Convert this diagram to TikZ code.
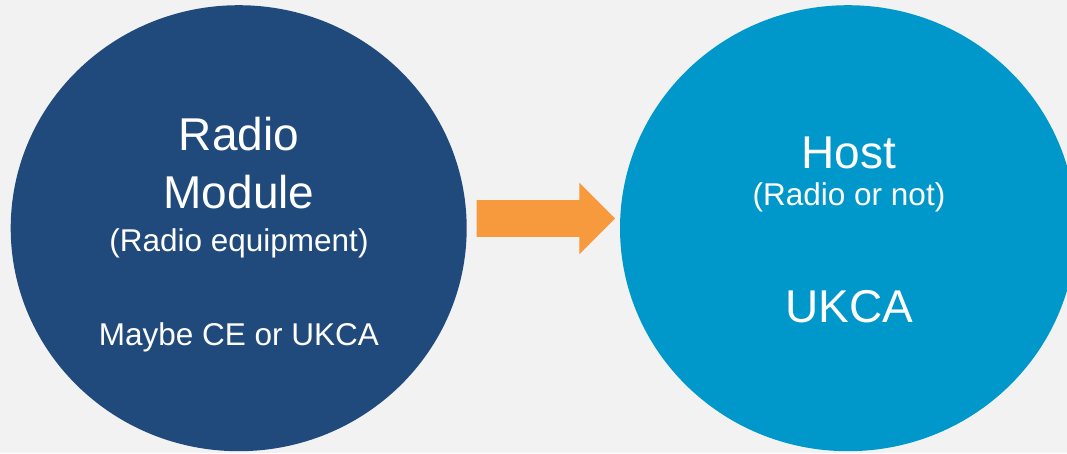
\documentclass[tikz,border=0pt]{standalone}
\usepackage{fontspec}
\setmainfont{Liberation Sans}
\usetikzlibrary{shapes.geometric}
\definecolor{bgc}{HTML}{F2F2F2}
\definecolor{darkc}{HTML}{214A7C}
\definecolor{lightc}{HTML}{0097CA}
\definecolor{arrowc}{HTML}{F79A3E}
\tikzset{
  bubble/.style={ellipse, minimum width=456pt, minimum height=446pt, inner sep=0pt},
  bigtxt/.style={text=white, anchor=base, inner sep=0pt, font=\fontsize{46}{52}\selectfont},
  smalltxt/.style={text=white, anchor=base, inner sep=0pt, font=\fontsize{31.5}{36}\selectfont},
}
\begin{document}
\begin{tikzpicture}[x=1pt,y=-1pt]
\fill[bgc] (0,0) rectangle (1067,453);
\useasboundingbox (0,0) rectangle (1067,453);
\node[bubble, fill=darkc] (L) at (238.7,228.2) {};
\node[bubble, fill=lightc] (R) at (848,228.2) {};
% left texts
\node[bigtxt] (l1) at (239,150.7) {Radio};
\node[bigtxt] (l2) at (239,208.3) {Module};
\node[smalltxt] (l3) at (239,251.7) {(Radio equipment)};
\node[smalltxt] (l4) at (239,345) {Maybe CE or UKCA};
% right texts
\node[bigtxt] (r1) at (849,168.3) {Host};
\node[smalltxt] (r2) at (849,205) {(Radio or not)};
\node[bigtxt] (r3) at (849,322.3) {UKCA};
% arrow
\coordinate (as) at (476.7,218.5);
\coordinate (ae) at (615,218.5);
\fill[arrowc] (as) ++(0,-18.3) -- ++(102.6,0) -- ++(0,-17.5) -- (ae)
  -- ([xshift=-35.7pt,yshift=-35.8pt]ae) -- ++(0,-17.5) -- ([yshift=-18.3pt]as) -- cycle;
\end{tikzpicture}
\end{document}
